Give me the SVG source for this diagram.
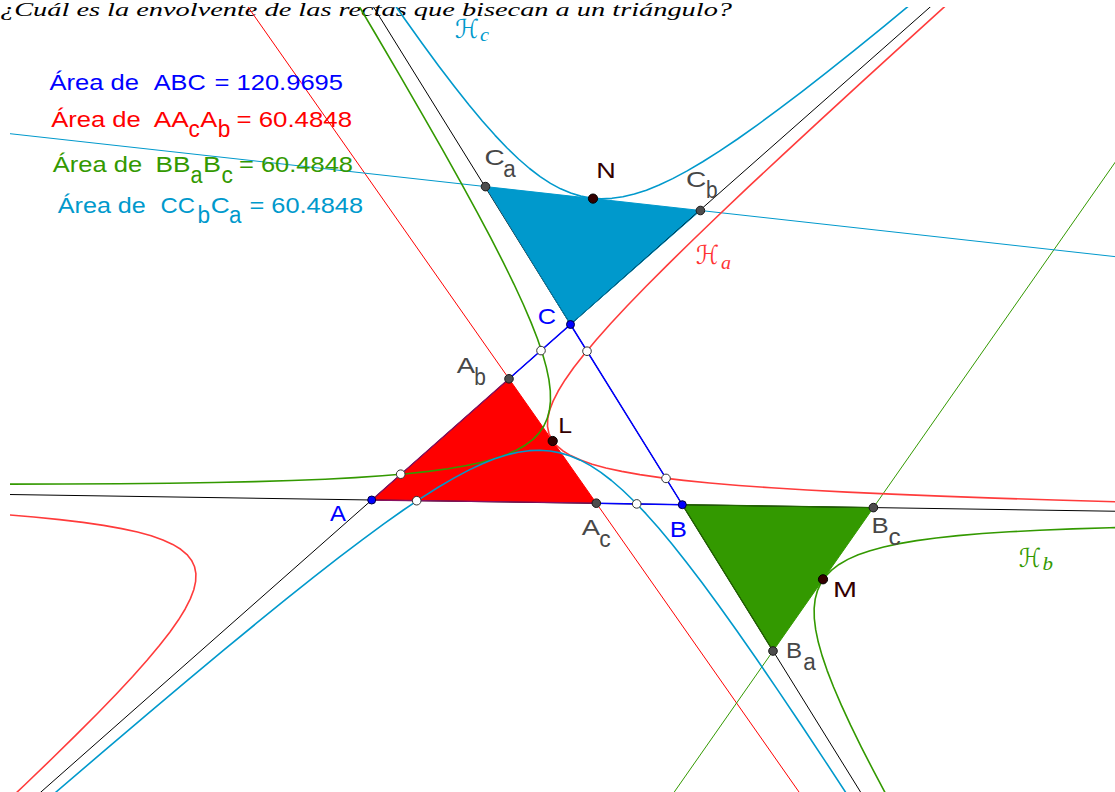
<svg xmlns="http://www.w3.org/2000/svg" xmlns:xlink="http://www.w3.org/1999/xlink" width="1115" height="792" viewBox="0 0 1115 792">
<style>
.ln{fill:none;stroke-width:1}
.seg{fill:none;stroke:#0000ff;stroke-width:1.5}
.hyp{fill:none;stroke-width:1.6;stroke-linejoin:round}
.pb{fill:#0000ff;stroke:#000040;stroke-width:1}
.pg{fill:#4d4d4d;stroke:#1a1a1a;stroke-width:1}
.pd{fill:#330000;stroke:#000;stroke-width:1}
.po{fill:#fff;stroke:#333;stroke-width:1}
.t{font-family:"Liberation Sans",Arial,sans-serif;font-size:22px}
.s{font-family:"Liberation Sans",Arial,sans-serif;font-size:23px}
.gr{fill:#474747}
.bl{fill:#0000ff}
.dk{fill:#330000}
.hl{font-family:"DejaVu Sans","DejaVu Serif",serif;font-size:26px;font-style:italic}
.hs{font-family:"Liberation Serif",serif;font-size:19px;font-style:italic}
</style>
<defs>
<clipPath id="view"><rect x="10" y="7" width="1105" height="785"/></clipPath>
<path id="hb" vector-effect="non-scaling-stroke" d="M0.02026 6.16926 L0.02229 5.60841 0.02452 5.09856 0.02697 4.63505 0.02966 4.21368 0.03263 3.83062 0.03589 3.48238 0.03948 3.1658 0.04343 2.878 0.04778 2.61637 0.05255 2.37852 0.05781 2.16229 0.06359 1.96572 0.06995 1.78701 0.07694 1.62456 0.08464 1.47687 0.0931 1.34261 0.10241 1.22056 0.11265 1.1096 0.12392 1.00873 0.13631 0.91702 0.14994 0.83366 0.16494 0.75787 0.18143 0.68898 0.19957 0.62634 0.21953 0.5694 0.24148 0.51764 0.26563 0.47058 0.29219 0.4278 0.32141 0.38891 0.35355 0.35355 0.38891 0.32141 0.4278 0.29219 0.47058 0.26563 0.51764 0.24148 0.5694 0.21953 0.62634 0.19957 0.68898 0.18143 0.75787 0.16494 0.83366 0.14994 0.91702 0.13631 1.00873 0.12392 1.1096 0.11265 1.22056 0.10241 1.34261 0.0931 1.47687 0.08464 1.62456 0.07694 1.78701 0.06995 1.96572 0.06359 2.16229 0.05781 2.37852 0.05255 2.61637 0.04778 2.878 0.04343 3.1658 0.03948 3.48238 0.03589 3.83062 0.03263 4.21368 0.02966 4.63505 0.02697 5.09856 0.02452 5.60841 0.02229 6.16926 0.02026"/>
</defs>
<rect width="1115" height="792" fill="#fff"/>
<text x="0" y="16" font-family="Liberation Serif,serif" font-style="italic" font-size="18" textLength="732" lengthAdjust="spacingAndGlyphs" fill="#000">¿Cuál es la envolvente de las rectas que bisecan a un triángulo?</text>
<g clip-path="url(#view)">
<g id="polygons">
<polygon points="371.7,500 596.3,503.2 509,378.8" fill="#ff0000"/>
<polygon points="682.3,504.7 873.4,507.6 773,651" fill="#339900"/>
<polygon points="570.5,324.5 700.4,210.5 485.5,186.6" fill="#0099cc"/>
</g>
<g id="connectors">
<path class="ln" stroke="#000" d="M-249.5 490.6L1303.5 514.1M-25.9 851L1067.5 -114.25M905.9 865.1L291 -126"/>
<path fill="none" stroke="#8a1060" stroke-width="1.3" d="M509 378.8L371.7 500L596.3 503.2"/>
<path fill="none" stroke="#226600" stroke-width="1.2" d="M773 651L682.3 504.7L873.4 507.6"/>
<path fill="none" stroke="#0088b8" stroke-width="1" d="M485.5 186.6L570.5 324.5L700.4 210.5"/>
<path class="ln" stroke="#ff0000" d="M229.6 -19.3L823.3 826.6"/>
<path class="ln" stroke="#339900" d="M652.5 823.1L1154.5 106.1"/>
<path class="ln" stroke="#0099cc" d="M-8.8 131.6L1130.2 258.3"/>
<path class="seg" d="M596.3 503.2L682.3 504.7L570.5 324.5L509 378.8"/>
</g>
<g id="hyperbolas">
<use xlink:href="#hb" href="#hb" class="hyp" stroke="#ff3b3b" transform="matrix(310.6 4.7 198.8 -175.5 371.7 500)"/>
<use xlink:href="#hb" href="#hb" class="hyp" stroke="#ff3b3b" transform="matrix(310.6 4.7 198.8 -175.5 371.7 500) scale(-1)"/>
<use xlink:href="#hb" href="#hb" class="hyp" stroke="#339900" transform="matrix(-310.6 -4.7 -111.8 -180.2 682.3 504.7)"/>
<use xlink:href="#hb" href="#hb" class="hyp" stroke="#339900" transform="matrix(-310.6 -4.7 -111.8 -180.2 682.3 504.7) scale(-1)"/>
<use xlink:href="#hb" href="#hb" class="hyp" stroke="#0099cc" transform="matrix(-198.8 175.5 111.8 180.2 570.5 324.5)"/>
<use xlink:href="#hb" href="#hb" class="hyp" stroke="#0099cc" transform="matrix(-198.8 175.5 111.8 180.2 570.5 324.5) scale(-1)"/>
</g>
</g>
<g id="open-points">
<circle class="po" cx="541" cy="350.6" r="4.3"/>
<circle class="po" cx="587" cy="351.2" r="4.3"/>
<circle class="po" cx="400.7" cy="474.2" r="4.3"/>
<circle class="po" cx="416.7" cy="500.7" r="4.3"/>
<circle class="po" cx="636.7" cy="503.9" r="4.3"/>
<circle class="po" cx="666" cy="478.4" r="4.3"/>
</g>
<g id="node-A"><circle class="pb" cx="371.7" cy="500" r="4"/><text class="t bl" x="330" y="521" textLength="16" lengthAdjust="spacingAndGlyphs">A</text></g>
<g id="node-B"><circle class="pb" cx="682.3" cy="504.7" r="4"/><text class="t bl" x="669.8" y="536.7" textLength="17.2" lengthAdjust="spacingAndGlyphs">B</text></g>
<g id="node-C"><circle class="pb" cx="570.5" cy="324.5" r="4"/><text class="t bl" x="537.8" y="324" textLength="18.3" lengthAdjust="spacingAndGlyphs">C</text></g>
<g id="node-Ab"><circle class="pg" cx="509" cy="378.8" r="4.3"/><text class="t gr" x="456.7" y="372.7" textLength="18.3" lengthAdjust="spacingAndGlyphs">A</text><text class="s gr" x="474.2" y="385" textLength="11.6" lengthAdjust="spacingAndGlyphs">b</text></g>
<g id="node-Ac"><circle class="pg" cx="596.3" cy="503.2" r="4.3"/><text class="t gr" x="581.7" y="535" textLength="18.3" lengthAdjust="spacingAndGlyphs">A</text><text class="s gr" x="599.3" y="546.5" textLength="11.4" lengthAdjust="spacingAndGlyphs">c</text></g>
<g id="node-Ba"><circle class="pg" cx="773" cy="651" r="4.3"/><text class="t gr" x="785.9" y="658.3" textLength="16.1" lengthAdjust="spacingAndGlyphs">B</text><text class="s gr" x="803.2" y="670" textLength="12.5" lengthAdjust="spacingAndGlyphs">a</text></g>
<g id="node-Bc"><circle class="pg" cx="873.4" cy="507.6" r="4.3"/><text class="t gr" x="871.4" y="533.3" textLength="17.2" lengthAdjust="spacingAndGlyphs">B</text><text class="s gr" x="888.6" y="545" textLength="12.2" lengthAdjust="spacingAndGlyphs">c</text></g>
<g id="node-Ca"><circle class="pg" cx="485.5" cy="186.6" r="4.3"/><text class="t gr" x="484.4" y="165" textLength="20.2" lengthAdjust="spacingAndGlyphs">C</text><text class="s gr" x="503.2" y="176.5" textLength="12.5" lengthAdjust="spacingAndGlyphs">a</text></g>
<g id="node-Cb"><circle class="pg" cx="700.4" cy="210.5" r="4.3"/><text class="t gr" x="686" y="187.3" textLength="20.3" lengthAdjust="spacingAndGlyphs">C</text><text class="s gr" x="705.9" y="198" textLength="11.6" lengthAdjust="spacingAndGlyphs">b</text></g>
<g id="node-L"><circle class="pd" cx="552.7" cy="441" r="4.6"/><text class="t dk" x="558.2" y="433.3" textLength="13.8" lengthAdjust="spacingAndGlyphs">L</text></g>
<g id="node-M"><circle class="pd" cx="823" cy="579.3" r="4.6"/><text class="t dk" x="832.9" y="596.7" textLength="24" lengthAdjust="spacingAndGlyphs">M</text></g>
<g id="node-N"><circle class="pd" cx="593" cy="198.6" r="4.6"/><text class="t dk" x="596.2" y="178.3" textLength="19.5" lengthAdjust="spacingAndGlyphs">N</text></g>
<g id="label-Ha" fill="#ff3333"><text class="hl" x="696" y="264" textLength="23" lengthAdjust="spacingAndGlyphs">ℋ</text><text class="hs" x="721" y="269" textLength="10" lengthAdjust="spacingAndGlyphs">a</text></g>
<g id="label-Hb" fill="#339900"><text class="hl" x="1019" y="566.5" textLength="22" lengthAdjust="spacingAndGlyphs">ℋ</text><text class="hs" x="1042.5" y="569.5" textLength="10.5" lengthAdjust="spacingAndGlyphs">b</text></g>
<g id="label-Hc" fill="#0099cc"><text class="hl" x="455" y="38" textLength="24" lengthAdjust="spacingAndGlyphs">ℋ</text><text class="hs" x="480" y="41" textLength="9" lengthAdjust="spacingAndGlyphs">c</text></g>
<g id="area-ABC" fill="#0000ff">
<text class="t" x="49.5" y="90" textLength="89.5" lengthAdjust="spacingAndGlyphs">Área de</text>
<text class="t" x="153.7" y="90" textLength="52" lengthAdjust="spacingAndGlyphs">ABC</text>
<text class="t" x="214.5" y="90" textLength="128.5" lengthAdjust="spacingAndGlyphs">= 120.9695</text>
</g>
<g id="area-AAcAb" fill="#ff0000">
<text class="t" x="51.2" y="126.7" textLength="89.5" lengthAdjust="spacingAndGlyphs">Área de</text>
<text class="t" x="153.7" y="126.7" textLength="35" lengthAdjust="spacingAndGlyphs">AA</text>
<text class="s" x="188.6" y="137" textLength="11.3" lengthAdjust="spacingAndGlyphs">c</text>
<text class="t" x="200.3" y="126.7" textLength="17" lengthAdjust="spacingAndGlyphs">A</text>
<text class="s" x="217.8" y="137" textLength="12.6" lengthAdjust="spacingAndGlyphs">b</text>
<text class="t" x="236.5" y="126.7" textLength="115.5" lengthAdjust="spacingAndGlyphs">= 60.4848</text>
</g>
<g id="area-BBaBc" fill="#339900">
<text class="t" x="52.8" y="171.7" textLength="89.5" lengthAdjust="spacingAndGlyphs">Área de</text>
<text class="t" x="155.6" y="171.7" textLength="35" lengthAdjust="spacingAndGlyphs">BB</text>
<text class="s" x="190.4" y="183" textLength="12" lengthAdjust="spacingAndGlyphs">a</text>
<text class="t" x="203" y="171.7" textLength="18" lengthAdjust="spacingAndGlyphs">B</text>
<text class="s" x="221.4" y="183" textLength="11.4" lengthAdjust="spacingAndGlyphs">c</text>
<text class="t" x="239" y="171.7" textLength="114" lengthAdjust="spacingAndGlyphs">= 60.4848</text>
</g>
<g id="area-CCbCa" fill="#0099cc">
<text class="t" x="57.8" y="213.3" textLength="88" lengthAdjust="spacingAndGlyphs">Área de</text>
<text class="t" x="160.5" y="213.3" textLength="34.5" lengthAdjust="spacingAndGlyphs">CC</text>
<text class="s" x="197.6" y="223" textLength="12.6" lengthAdjust="spacingAndGlyphs">b</text>
<text class="t" x="210.8" y="213.3" textLength="19" lengthAdjust="spacingAndGlyphs">C</text>
<text class="s" x="229" y="223" textLength="12.4" lengthAdjust="spacingAndGlyphs">a</text>
<text class="t" x="249.5" y="213.3" textLength="113.5" lengthAdjust="spacingAndGlyphs">= 60.4848</text>
</g>
</svg>
